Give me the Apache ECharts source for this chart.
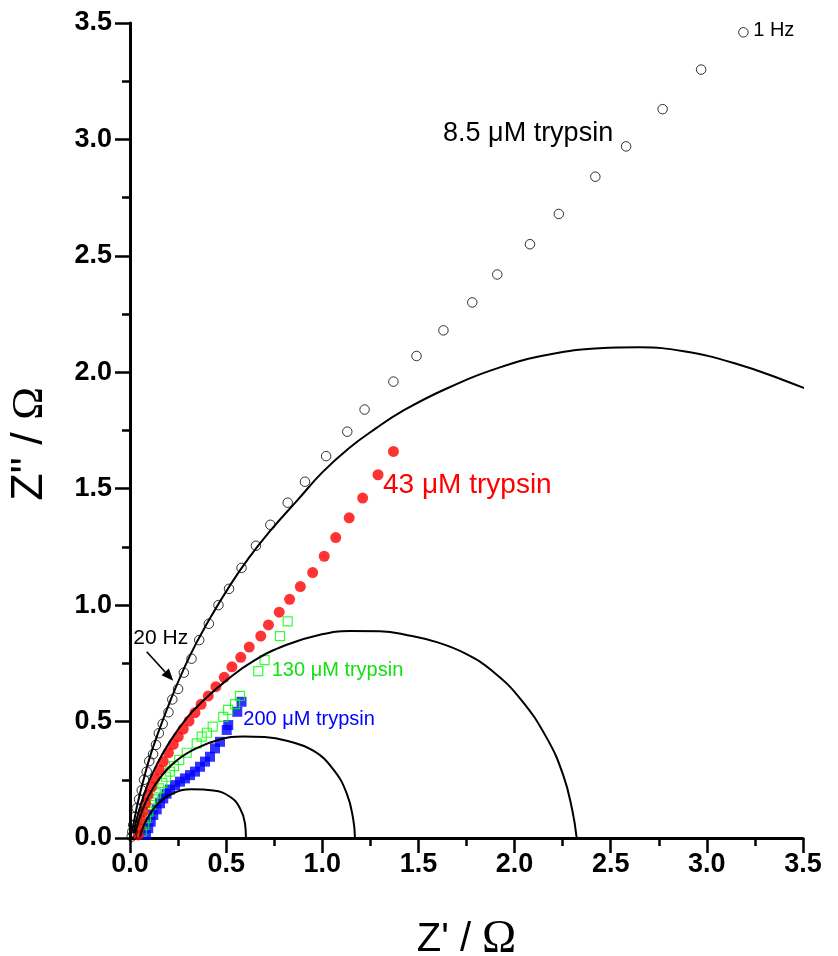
<!DOCTYPE html>
<html>
<head>
<meta charset="utf-8">
<script src="https://cdn.jsdelivr.net/npm/echarts@6/dist/echarts.min.js"></script>
<style>
html,body{margin:0;padding:0;background:#fff;}
#chart{width:838px;height:956px;}
</style>
</head>
<body>
<div id="chart"></div>
<script>
// ---------- data (Z', Z'') ----------
const xTickLabels = ['0.0','0.5','1.0','1.5','2.0','2.5','3.0','3.5'];
const yTickLabels = ['0.0','0.5','1.0','1.5','2.0','2.5','3.0','3.5'];

const seriesNames = ['8.5 μM trypsin','43 μM trypsin','130 μM trypsin','200 μM trypsin'];

const trypsin8_5 = [
  [0.009,0.006],[0.012,0.027],[0.017,0.056],[0.026,0.091],[0.035,0.128],[0.047,0.166],
  [0.061,0.205],[0.073,0.25],[0.087,0.285],[0.10,0.33],[0.12,0.36],[0.135,0.40],
  [0.15,0.45],[0.17,0.49],[0.20,0.54],[0.22,0.595],[0.25,0.64],[0.28,0.71],
  [0.32,0.77],[0.36,0.85],[0.41,0.92],[0.46,1.00],[0.515,1.07],[0.58,1.16],
  [0.655,1.255],[0.73,1.345],[0.82,1.44],[0.91,1.53],[1.02,1.64],[1.13,1.745],
  [1.22,1.84],[1.37,1.96],[1.49,2.07],[1.63,2.18],[1.78,2.30],[1.91,2.42],
  [2.08,2.55],[2.23,2.68],[2.42,2.84],[2.58,2.97],[2.77,3.13],[2.97,3.30],[3.19,3.46]
];

const trypsin43 = [
  [0.043,0.013],[0.048,0.042],[0.057,0.077],[0.069,0.113],[0.082,0.149],[0.095,0.185],
  [0.113,0.22],[0.13,0.256],[0.152,0.292],[0.173,0.328],[0.2,0.366],[0.225,0.402],
  [0.251,0.435],[0.277,0.468],[0.307,0.502],[0.338,0.538],[0.37,0.574],[0.407,0.61],
  [0.447,0.65],[0.49,0.69],[0.53,0.735],[0.576,0.776],[0.62,0.82],[0.68,0.867],
  [0.72,0.915],[0.776,0.97],[0.83,1.025],[0.886,1.08],[0.95,1.14],[1.01,1.21],
  [1.07,1.29],[1.14,1.375],[1.21,1.46],[1.29,1.56],[1.37,1.66]
];

const trypsin130 = [
  [0.061,0.027],[0.073,0.056],[0.083,0.085],[0.095,0.113],[0.108,0.142],[0.121,0.166],
  [0.135,0.192],[0.152,0.213],[0.168,0.237],[0.187,0.263],[0.208,0.285],[0.229,0.309],
  [0.256,0.335],[0.295,0.366],[0.347,0.406],[0.373,0.435],[0.40,0.452],[0.43,0.478],
  [0.485,0.52],[0.51,0.55],[0.546,0.575],[0.572,0.61],[0.667,0.717],[0.70,0.764],
  [0.78,0.867],[0.82,0.93]
];

const trypsin200 = [
  [0.083,0.013],[0.095,0.042],[0.108,0.07],[0.121,0.099],[0.139,0.123],[0.156,0.149],
  [0.173,0.17],[0.19,0.19],[0.208,0.208],[0.234,0.227],[0.26,0.242],[0.286,0.256],
  [0.312,0.27],[0.338,0.285],[0.364,0.306],[0.39,0.328],[0.416,0.349],[0.442,0.385],
  [0.468,0.413],[0.503,0.464],[0.511,0.485],[0.558,0.542],[0.58,0.585]
];

// fitted curves (black lines)
const fit8_5 = [
  [0.0,0.0],[0.017,0.056],[0.04,0.15],[0.08,0.28],[0.12,0.39],[0.21,0.59],[0.31,0.78],
  [0.41,0.935],[0.52,1.085],[0.62,1.205],[0.73,1.32],[0.87,1.45],[1.0,1.57],[1.14,1.675],
  [1.28,1.76],[1.41,1.83],[1.63,1.924],[1.92,2.02],[2.18,2.076],[2.44,2.103],[2.65,2.107],
  [2.88,2.09],[3.14,2.04],[3.40,1.966],[3.68,1.873]
];
const fit43 = [
  [0.017,0.02],[0.043,0.106],[0.087,0.22],[0.139,0.315],[0.208,0.415],[0.295,0.515],
  [0.381,0.59],[0.503,0.678],[0.641,0.76],[0.815,0.83],[0.988,0.873],[1.144,0.889],
  [1.30,0.888],[1.45,0.87],[1.60,0.84],[1.75,0.79],[1.88,0.72],[2.028,0.6],[2.167,0.43],
  [2.253,0.27],[2.30,0.12],[2.323,0.0]
];
const fit130 = [
  [0.026,0.02],[0.052,0.091],[0.095,0.177],[0.156,0.258],[0.243,0.333],[0.347,0.386],
  [0.468,0.423],[0.589,0.436],[0.70,0.434],[0.815,0.418],[0.953,0.375],[1.057,0.295],
  [1.127,0.192],[1.161,0.08],[1.17,0.0]
];
const fit200 = [
  [0.052,0.006],[0.065,0.04],[0.095,0.091],[0.147,0.148],[0.225,0.192],[0.321,0.209],
  [0.433,0.204],[0.52,0.177],[0.572,0.128],[0.598,0.063],[0.603,0.0]
];

// annotation texts
const annotationTexts = ['8.5 μM trypsin','1 Hz','43 μM trypsin','130 μM trypsin','200 μM trypsin','20 Hz'];

// ---------- chart ----------
const chart = echarts.init(document.getElementById('chart'), null, {renderer:'canvas'});

const axisCommon = {
  type:'value', min:0, max:3.5, interval:0.5,
  axisLine:{show:true, onZero:false, lineStyle:{color:'#000', width:3}},
  axisTick:{show:true, inside:false, length:15, lineStyle:{color:'#000', width:2.5}},
  minorTick:{show:true, splitNumber:2, length:8, lineStyle:{color:'#000', width:2.5}},
  splitLine:{show:false},
  minorSplitLine:{show:false}
};

const fitStyle = {type:'line', smooth:0.45, symbol:'none', showSymbol:false, z:5,
  lineStyle:{color:'#000', width:2}, silent:true};

const option = {
  animation:false,
  backgroundColor:'#fff',
  grid:{left:130, right:35, top:23, bottom:118, containLabel:false, outerBoundsMode:'none'},
  xAxis:Object.assign({}, axisCommon, {
    name:"{a|Z' / }{b|Ω}", nameLocation:'middle', nameGap:79,
    nameTextStyle:{rich:{
      a:{fontFamily:'Liberation Sans', fontSize:40, color:'#000'},
      b:{fontFamily:'Liberation Serif', fontSize:46, color:'#000'}}},
    axisLabel:{margin:13, color:'#000', fontFamily:'Liberation Sans', fontWeight:'bold', fontSize:27,
      formatter:(v)=>xTickLabels[Math.round(v/0.5)] ?? ''}
  }),
  yAxis:Object.assign({}, axisCommon, {
    axisLabel:{margin:18, color:'#000', fontFamily:'Liberation Sans', fontWeight:'bold', fontSize:27,
      formatter:(v)=>yTickLabels[Math.round(v/0.5)] ?? ''}
  }),
  series:[
    Object.assign({}, fitStyle, {name:'fit 8.5', data:fit8_5, clip:false}),
    Object.assign({}, fitStyle, {name:'fit 43', data:fit43}),
    Object.assign({}, fitStyle, {name:'fit 130', data:fit130}),
    Object.assign({}, fitStyle, {name:'fit 200', data:fit200}),
    {type:'scatter', name:seriesNames[3], data:trypsin200, symbol:'rect', symbolSize:10, z:2,
      itemStyle:{color:'#0000ff'}},
    {type:'scatter', name:seriesNames[2], data:trypsin130, symbol:'rect', symbolSize:9, z:3,
      itemStyle:{color:'rgba(255,255,255,0)', borderColor:'#00ff00', borderWidth:1.2}},
    {type:'scatter', name:seriesNames[1], data:trypsin43, symbol:'circle', symbolSize:11, z:3,
      itemStyle:{color:'#ff0000'}},
    {type:'scatter', name:seriesNames[0], data:trypsin8_5, symbol:'circle', symbolSize:9.5, z:4,
      itemStyle:{color:'rgba(255,255,255,0)', borderColor:'#000', borderWidth:1}}
  ]
};
chart.setOption(option);

// annotations placed in data coordinates
const annos = [
  {i:0, at:[1.628,3.027], color:'#000', size:27},
  {i:1, at:[3.241,3.47], color:'#000', size:20},
  {i:2, at:[1.316,1.516], color:'#ff0000', size:28},
  {i:3, at:[0.737,0.721], color:'#11e011', size:20},
  {i:4, at:[0.589,0.507], color:'#0000ff', size:20},
  {i:5, at:[0.017,0.859], color:'#000', size:21}
];
const graphics = annos.map(a=>{
  const p = chart.convertToPixel({gridIndex:0}, a.at);
  return {type:'text', x:p[0], y:p[1], z:10,
    style:{text:annotationTexts[a.i], fill:a.color, fontFamily:'Liberation Sans',
      fontSize:a.size, align:'left', verticalAlign:'middle'}};
});
// y axis title (rotated)
graphics.push({type:'text', x:30, y:444, rotation:Math.PI/2, z:10,
  style:{text:'{a|Z" / }{b|Ω}', align:'center', verticalAlign:'middle',
    rich:{a:{fontFamily:'Liberation Sans', fontSize:45, fill:'#000'},
          b:{fontFamily:'Liberation Serif', fontSize:44, fill:'#000'}}}});
// arrow for 20 Hz
const arrowFrom = chart.convertToPixel({gridIndex:0}, [0.087,0.80]);
const arrowTo = chart.convertToPixel({gridIndex:0}, [0.225,0.675]);
const dx = arrowTo[0]-arrowFrom[0], dy = arrowTo[1]-arrowFrom[1];
const L = Math.hypot(dx,dy), ux = dx/L, uy = dy/L;
const hl = 12, hw = 5;
const base = [arrowTo[0]-ux*hl, arrowTo[1]-uy*hl];
graphics.push({type:'line', z:10, shape:{x1:arrowFrom[0], y1:arrowFrom[1], x2:base[0], y2:base[1]},
  style:{stroke:'#000', lineWidth:1.6}});
graphics.push({type:'polygon', z:10, shape:{points:[arrowTo,
  [base[0]-uy*hw, base[1]+ux*hw],[base[0]+uy*hw, base[1]-ux*hw]]}, style:{fill:'#000'}});
chart.setOption({graphic:graphics});
</script>
</body>
</html>
